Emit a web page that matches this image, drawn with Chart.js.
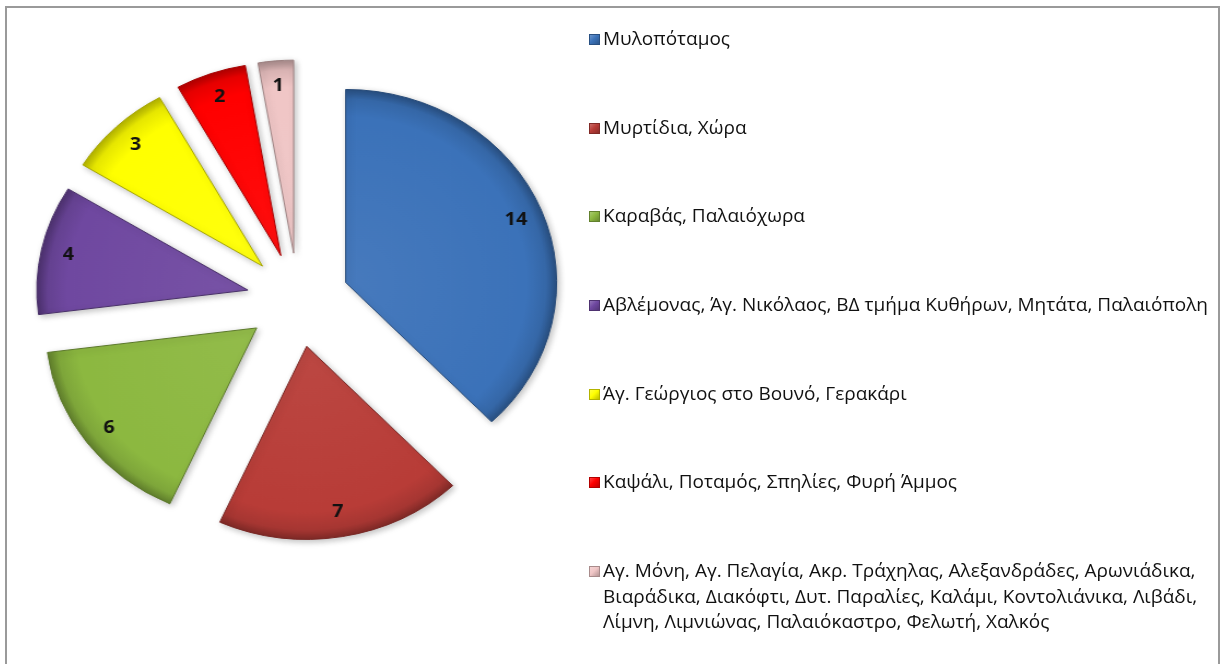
<!DOCTYPE html>
<html lang="el">
<head>
<meta charset="utf-8">
<title>Περιοχές</title>
<script src="https://cdn.jsdelivr.net/npm/chart.js@4.4.1/dist/chart.umd.min.js"></script>
<style>
    html, body { margin: 0; padding: 0; background: #fff; }
    body { width: 1228px; height: 664px; position: relative; overflow: hidden; font-family: "Open Sans", sans-serif; }
    .frame { position: absolute; left: 5px; top: 6px; width: 1215px; height: 720px; border: 2px solid #9a9a9a; box-sizing: border-box; }
    .pie-wrap { position: absolute; left: 18px; top: 0; width: 560px; height: 600px; transform: scaleX(1.093); transform-origin: 280px 300px; }
    #legend { position: absolute; left: 589px; top: 26px; margin: 0; padding: 0; list-style: none; }
    #legend li { display: flex; align-items: flex-start; height: 88.7px; line-height: 25.5px; font-size: 19px; color: #111; white-space: nowrap; }
    #legend li:last-child { height: auto; }
    #legend .swatch { flex: none; width: 11px; height: 11px; margin: 8px 3px 0 0; box-sizing: border-box; }
</style>
</head>
<body>
<div class="frame"></div>
<div class="pie-wrap"><canvas id="pieChart" width="560" height="600"></canvas></div>
<ul id="legend"></ul>

<script>
// Areas and number of entries per group
const categories = [
    'Μυλοπόταμος',
    'Μυρτίδια, Χώρα',
    'Καραβάς, Παλαιόχωρα',
    'Αβλέμονας, Άγ. Νικόλαος, ΒΔ τμήμα Κυθήρων, Μητάτα, Παλαιόπολη',
    'Άγ. Γεώργιος στο Βουνό, Γερακάρι',
    'Καψάλι, Ποταμός, Σπηλίες, Φυρή Άμμος',
    ['Αγ. Μόνη, Αγ. Πελαγία, Ακρ. Τράχηλας, Αλεξανδράδες, Αρωνιάδικα,',
     'Βιαράδικα, Διακόφτι, Δυτ. Παραλίες, Καλάμι, Κοντολιάνικα, Λιβάδι,',
     'Λίμνη, Λιμνιώνας, Παλαιόκαστρο, Φελωτή, Χαλκός']
];
const counts = [14, 7, 6, 4, 3, 2, 1];
const sliceColors = ['#3b72b9', '#b83c37', '#8cb840', '#6f48a0', '#ffff00', '#ff0000', '#f0c6c6'];

const PIE_RADIUS = 193;
const EXPLODE = 47;

/**
 * Lighten (amt > 0) or darken (amt < 0) a hex colour
 */
function shade(hex, amt) {
    const n = parseInt(hex.slice(1), 16);
    const mix = (c) => {
        const v = amt >= 0 ? c + (255 - c) * amt : c * (1 + amt);
        return Math.round(Math.max(0, Math.min(255, v)));
    };
    const r = mix((n >> 16) & 255), g = mix((n >> 8) & 255), b = mix(n & 255);
    return `rgb(${r}, ${g}, ${b})`;
}

/**
 * Radial fill so each slice gets a darker rim
 */
function sliceFill(context) {
    const base = sliceColors[context.dataIndex];
    const area = context.chart.chartArea;
    if (!area) return base;
    const cx = (area.left + area.right) / 2;
    const cy = (area.top + area.bottom) / 2;
    const g = context.chart.ctx.createRadialGradient(cx, cy, 0, cx, cy, PIE_RADIUS);
    g.addColorStop(0, shade(base, 0.06));
    g.addColorStop(0.86, base);
    g.addColorStop(0.95, shade(base, -0.1));
    g.addColorStop(1, shade(base, -0.3));
    return g;
}

// Draws each slice pushed out along its bisector, then the value labels
const explodedSlices = {
    id: 'explodedSlices',
    beforeDatasetDraw(chart, args) {
        const ctx = chart.ctx;
        const arcs = args.meta.data;

        arcs.forEach((arc) => {
            const mid = (arc.startAngle + arc.endAngle) / 2;
            ctx.save();
            ctx.translate(Math.cos(mid) * EXPLODE, Math.sin(mid) * EXPLODE);
            ctx.shadowColor = 'rgba(0, 0, 0, 0.25)';
            ctx.shadowBlur = 6;
            ctx.shadowOffsetX = 2;
            ctx.shadowOffsetY = 2;
            arc.draw(ctx);
            ctx.restore();
        });

        ctx.save();
        ctx.font = 'bold 18px "Open Sans", sans-serif';
        ctx.fillStyle = '#111';
        ctx.textAlign = 'center';
        ctx.textBaseline = 'middle';
        arcs.forEach((arc, i) => {
            const mid = (arc.startAngle + arc.endAngle) / 2;
            const dist = EXPLODE + arc.outerRadius * 0.87;
            ctx.fillText(String(counts[i]), arc.x + Math.cos(mid) * dist, arc.y + Math.sin(mid) * dist);
        });
        ctx.restore();

        return false;
    }
};

const chart = new Chart(document.getElementById('pieChart'), {
    type: 'pie',
    data: {
        labels: categories,
        datasets: [{
            data: counts,
            backgroundColor: sliceFill,
            borderColor: sliceColors.map(c => shade(c, -0.35)),
            borderWidth: 1
        }]
    },
    options: {
        responsive: false,
        animation: false,
        events: [],
        radius: PIE_RADIUS,
        layout: { padding: 0 },
        plugins: {
            legend: { display: false },
            tooltip: { enabled: false }
        }
    },
    plugins: [explodedSlices]
});

// Legend built from the chart's own label items
const legendEl = document.getElementById('legend');
chart.options.plugins.legend.labels.generateLabels(chart).forEach((item, i) => {
    const base = sliceColors[i];
    const li = document.createElement('li');
    const swatch = document.createElement('span');
    swatch.className = 'swatch';
    swatch.style.background = `linear-gradient(135deg, ${shade(base, 0.25)}, ${base} 45%, ${shade(base, -0.25)})`;
    swatch.style.border = `1px solid ${shade(base, -0.3)}`;
    const text = document.createElement('span');
    const lines = Array.isArray(item.text) ? item.text : [item.text];
    lines.forEach((line, k) => {
        if (k > 0) text.appendChild(document.createElement('br'));
        text.appendChild(document.createTextNode(line));
    });
    li.appendChild(swatch);
    li.appendChild(text);
    legendEl.appendChild(li);
});
</script>
</body>
</html>
